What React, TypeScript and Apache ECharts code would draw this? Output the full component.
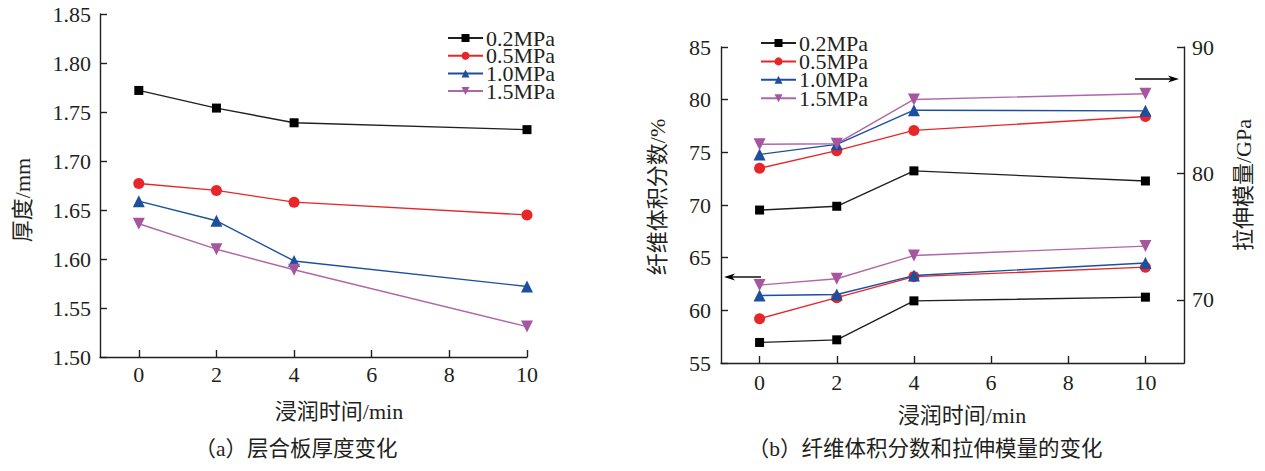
import React, { useEffect, useRef } from "react";
import * as echarts from "echarts";

// ---- data ----
const soakTimes = [0, 2, 4, 10];
const pressureNames = ["0.2MPa", "0.5MPa", "1.0MPa", "1.5MPa"];
const xTickValues = [0, 2, 4, 6, 8, 10];

// (a) laminate thickness, mm
const thickness02 = [1.772, 1.754, 1.739, 1.732];
const thickness05 = [1.677, 1.67, 1.658, 1.645];
const thickness10 = [1.659, 1.639, 1.598, 1.572];
const thickness15 = [1.636, 1.61, 1.589, 1.531];

// (b) fibre volume fraction, % (left axis)
const fiber02 = [56.95, 57.2, 60.9, 61.25];
const fiber05 = [59.2, 61.2, 63.2, 64.1];
const fiber10 = [61.4, 61.5, 63.3, 64.5];
const fiber15 = [62.4, 63.0, 65.2, 66.1];

// (b) tensile modulus, GPa (right axis)
const modulus02 = [77.1, 77.4, 80.2, 79.4];
const modulus05 = [80.4, 81.8, 83.4, 84.5];
const modulus10 = [81.5, 82.3, 85.0, 84.95];
const modulus15 = [82.3, 82.35, 85.85, 86.3];

const modulusTicks = [70, 80, 90];

// ---- styles ----
const INK = "#231f20";
const SERIF = "'Liberation Serif', 'Times New Roman', serif";
const CJK = "'Liberation Serif', 'Noto Sans CJK SC', serif";
const seriesStyles = [
  { color: "#000000", line: "#231f20", symbol: "rect", size: 9, rotate: 0 },
  { color: "#e8262a", line: "#e8262a", symbol: "circle", size: 11, rotate: 0 },
  { color: "#1d4f9f", line: "#1d4f9f", symbol: "triangle", size: 12, rotate: 0 },
  { color: "#a6559f", line: "#b067a8", symbol: "triangle", size: 12, rotate: 180 },
];

const pair = (ys: number[]) => soakTimes.map((x, i) => [x, ys[i]]);

function makeSeries(
  ys: number[],
  idx: number,
  xAxisIndex: number,
  yAxisIndex: number
) {
  const s = seriesStyles[idx];
  return {
    type: "line",
    name: pressureNames[idx],
    xAxisIndex,
    yAxisIndex,
    data: pair(ys),
    symbol: s.symbol,
    symbolSize: s.size,
    symbolRotate: s.rotate,
    lineStyle: { color: s.line, width: 1.4 },
    itemStyle: { color: s.color, borderWidth: 0 },
    emphasis: { disabled: true },
    z: 3 + idx,
  };
}

const tickLabel = { color: INK, fontFamily: SERIF, fontSize: 22 };
const axisLine = { show: true, onZero: false, lineStyle: { color: INK, width: 1.4 } };
const axisTick = { show: true, inside: true, length: 7, lineStyle: { color: INK, width: 1.4 } };

function arrow(x1: number, x2: number, y: number) {
  // x2 is the tip
  const dir = x2 > x1 ? 1 : -1;
  return [
    {
      type: "line",
      shape: { x1, y1: y, x2: x2 - dir * 8, y2: y },
      style: { stroke: "#000", lineWidth: 1.4 },
    },
    {
      type: "polygon",
      shape: {
        points: [
          [x2, y],
          [x2 - dir * 11, y - 3.5],
          [x2 - dir * 8, y],
          [x2 - dir * 11, y + 3.5],
        ],
      },
      style: { fill: "#000" },
    },
  ];
}

function textEl(text: string, x: number, y: number, rotation = 0, size = 22) {
  return {
    type: "text",
    x,
    y,
    rotation,
    style: {
      text,
      fill: INK,
      font: `${size}px ${CJK}`,
      align: "center",
      verticalAlign: "middle",
    },
  };
}

export default function App() {
  const ref = useRef<HTMLDivElement>(null);

  useEffect(() => {
    if (!ref.current) return;
    const chart = echarts.init(ref.current, undefined, { renderer: "svg" });

    const legendCommon = {
      orient: "vertical",
      data: pressureNames,
      itemWidth: 35,
      itemHeight: 10,
      itemGap: -4.3,
      padding: 0,
      selectedMode: false,
      textStyle: { color: INK, fontFamily: SERIF, fontSize: 22, padding: [0, 0, 0, -2] },
    };

    const option = {
      animation: false,
      backgroundColor: "#ffffff",
      legend: [
        { ...legendCommon, left: 447, top: 27 },
        { ...legendCommon, left: 760, top: 32, itemGap: -3.6 },
      ],
      grid: [
        { left: 100, top: 14, width: 427, height: 343 },
        { left: 721, top: 47, width: 463, height: 316 },
      ],
      xAxis: [
        {
          type: "value",
          gridIndex: 0,
          min: -1,
          max: 10,
          axisLine,
          axisTick: { ...axisTick, customValues: xTickValues },
          axisLabel: { ...tickLabel, margin: 6, customValues: xTickValues },
          splitLine: { show: false },
        },
        {
          type: "value",
          gridIndex: 1,
          min: -1,
          max: 11,
          axisLine,
          axisTick: { ...axisTick, customValues: xTickValues },
          axisLabel: { ...tickLabel, margin: 8, customValues: xTickValues },
          splitLine: { show: false },
        },
      ],
      yAxis: [
        {
          type: "value",
          gridIndex: 0,
          min: 1.5,
          max: 1.85,
          interval: 0.05,
          axisLine,
          axisTick,
          axisLabel: { ...tickLabel, margin: 9, formatter: (v: number) => v.toFixed(2) },
          splitLine: { show: false },
        },
        {
          type: "value",
          gridIndex: 1,
          position: "left",
          min: 55,
          max: 85,
          interval: 5,
          axisLine,
          axisTick,
          axisLabel: { ...tickLabel, margin: 10 },
          splitLine: { show: false },
        },
        {
          type: "value",
          gridIndex: 1,
          position: "right",
          min: 65,
          max: 90,
          axisLine,
          axisTick: { ...axisTick, customValues: modulusTicks },
          axisLabel: { ...tickLabel, margin: 8, customValues: modulusTicks },
          splitLine: { show: false },
        },
      ],
      series: [
        makeSeries(thickness02, 0, 0, 0),
        makeSeries(thickness05, 1, 0, 0),
        makeSeries(thickness10, 2, 0, 0),
        makeSeries(thickness15, 3, 0, 0),
        makeSeries(fiber02, 0, 1, 1),
        makeSeries(fiber05, 1, 1, 1),
        makeSeries(fiber10, 2, 1, 1),
        makeSeries(fiber15, 3, 1, 1),
        makeSeries(modulus02, 0, 1, 2),
        makeSeries(modulus05, 1, 1, 2),
        makeSeries(modulus10, 2, 1, 2),
        makeSeries(modulus15, 3, 1, 2),
      ],
      graphic: [
        textEl("厚度/mm", 22, 200, Math.PI / 2),
        textEl("浸润时间/min", 339, 411),
        textEl("（a）层合板厚度变化", 296, 449, 0, 21.5),
        textEl("纤维体积分数/%", 657, 197, Math.PI / 2),
        textEl("拉伸模量/GPa", 1243, 185, Math.PI / 2),
        textEl("浸润时间/min", 962, 415),
        textEl("（b）纤维体积分数和拉伸模量的变化", 925, 449, 0, 21.5),
        ...arrow(761, 724, 277),
        ...arrow(1135, 1179, 79),
      ],
    };

    chart.setOption(option as any);
    return () => chart.dispose();
  }, []);

  return (
    <div
      ref={ref}
      style={{ position: "absolute", left: 0, top: 0, width: 1265, height: 471 }}
    />
  );
}
